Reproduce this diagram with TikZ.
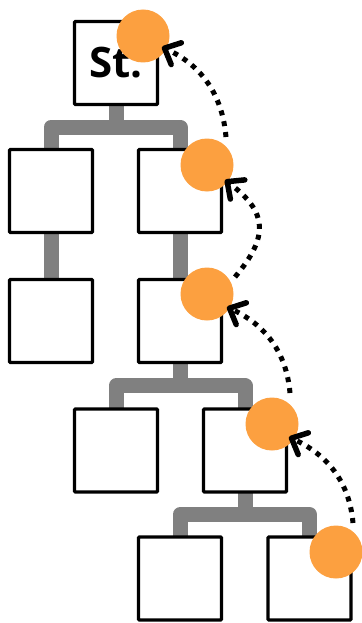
\documentclass[tikz,border=0pt]{standalone}
\usepackage{fontspec}
\newfontfamily\stfont{Open Sans}
\usetikzlibrary{arrows.meta,calc,backgrounds}
\definecolor{dotorange}{RGB}{252,160,64}
\definecolor{conngray}{RGB}{128,128,128}
\begin{document}
\begin{tikzpicture}[x=1pt,y=1pt,
  box/.style={draw=black,fill=white,line width=3.3pt,minimum width=83pt,minimum height=83pt,inner sep=0pt,rounded corners=1pt},
  dot/.style={circle,fill=dotorange,minimum size=53pt,inner sep=0pt},
  conn/.style={draw=conngray,line width=15pt,line join=round},
  hop/.style={line width=5pt,dash pattern=on 5pt off 6pt,
    -{Straight Barb[length=13pt,width=24pt,line width=5.5pt,round]}}]
\useasboundingbox (0,0) rectangle (361,-623);
% boxes
\node[box] (t) at (116,-63) {\stfont\bfseries\fontsize{42}{50}\selectfont St.};
\node[box] (a) at (51,-191) {};
\node[box] (b) at (180,-191) {};
\node[box] (c) at (51,-321) {};
\node[box] (d) at (180,-321) {};
\node[box] (e) at (116,-450.5) {};
\node[box] (f) at (245,-450.5) {};
\node[box] (g) at (180,-578.5) {};
\node[box] (h) at (309.5,-578.5) {};
% gray connectors
\begin{scope}[on background layer]
\coordinate (m1) at ($(t.south)!0.5!(a.north)$);
\coordinate (m2) at ($(d.south)!0.5!(e.north)$);
\coordinate (m3) at ($(f.south)!0.5!(g.north)$);
\draw[conn] (a.center) -- (a.north |- m1) -- (b.north |- m1) -- (b.center);
\draw[conn] (t.center) -- (t.south |- m1);
\draw[conn] (a.center) -- (c.center);
\draw[conn] (b.center) -- (d.center);
\draw[conn] (e.center) -- (e.north |- m2) -- (f.north |- m2) -- (f.center);
\draw[conn] (d.center) -- (d.south |- m2);
\draw[conn] (g.center) -- (g.north |- m3) -- (h.north |- m3) -- (h.center);
\draw[conn] (f.center) -- (f.south |- m3);
\end{scope}
% orange circles
\node[dot] (c1) at (143,-36) {};
\node[dot] (c2) at (207,-165) {};
\node[dot] (c3) at (207,-294) {};
\node[dot] (c4) at (272,-424) {};
\node[dot] (c5) at (336,-552) {};
% dotted arrows
\draw[hop] ($(c2)+(19,28)$) to[out=95,in=-25] ($(c1)+(19,-11)$);
\draw[hop] ($(c3)+(28,17)$) to[out=50,in=-37,looseness=1.4] ($(c2)+(18,-15)$);
\draw[hop] ($(c4)+(18,31)$) to[out=95,in=-25] ($(c3)+(20,-13)$);
\draw[hop] ($(c5)+(17,29)$) to[out=95,in=-25] ($(c4)+(17,-13)$);
\end{tikzpicture}
\end{document}
